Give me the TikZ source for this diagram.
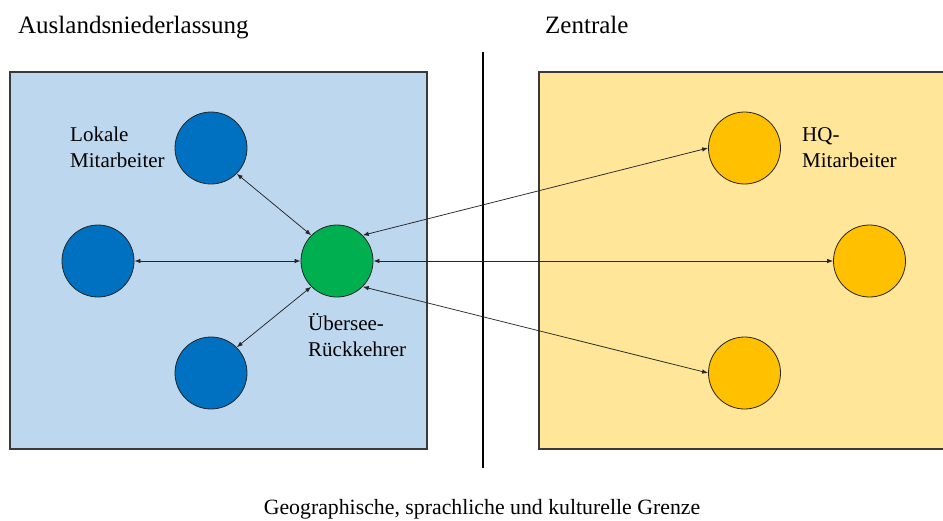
\documentclass[tikz,border=0pt]{standalone}
\usepackage{fontspec}
\setmainfont{Liberation Serif}
\usetikzlibrary{arrows.meta}
\definecolor{lblue}{HTML}{BDD7EE}
\definecolor{dblue}{HTML}{0070C0}
\definecolor{lgold}{HTML}{FFE699}
\definecolor{gold}{HTML}{FFC000}
\definecolor{grn}{HTML}{00B050}
\definecolor{frame}{HTML}{3A3A3A}
\tikzset{
  region/.style={draw=frame, line width=1.6pt},
  person/.style={circle, draw=black!85, line width=0.8pt, minimum size=72pt, inner sep=0pt},
  link/.style={line width=0.75pt, draw=black!85, {Latex[length=6pt,width=4.5pt]}-{Latex[length=6pt,width=4.5pt]}},
  title/.style={font=\fontsize{25}{29}\selectfont, anchor=base west, inner sep=0pt},
  lbl/.style={font=\fontsize{21}{26}\selectfont, align=left, anchor=west, inner sep=0pt}
}
\begin{document}
\begin{tikzpicture}[x=1pt, y=-1pt]
\useasboundingbox (0,0) rectangle (943,520);
% regions
\fill[lblue] (10,72) rectangle (427,449);
\draw[region] (10,72) rectangle (427,449);
\fill[lgold] (539,72) rectangle (950,449);
\draw[region] (950,72) -- (539,72) -- (539,449) -- (950,449);
% border line
\draw[line width=1.4pt] (483,52) coordinate (btop) -- (483,468) coordinate (bbot);
% titles
\node[title] (t1) at (18,33) {Auslandsniederlassung};
\node[title] (t2) at (545,33) {Zentrale};
\node[font=\fontsize{21.8}{26}\selectfont, anchor=base, inner sep=0pt] (t3) at (482,514) {Geographische, sprachliche und kulturelle Grenze};
% persons
\node[person, fill=dblue] (b1) at (211,148) {};
\node[person, fill=dblue] (b2) at (98,261) {};
\node[person, fill=dblue] (b3) at (211,373) {};
\node[person, fill=grn] (g) at (337,261) {};
\node[person, fill=gold] (o1) at (744.5,148) {};
\node[person, fill=gold] (o2) at (869.5,261) {};
\node[person, fill=gold] (o3) at (744.5,373) {};
% labels
\node[lbl] (l1) at (70,147) {Lokale\\Mitarbeiter};
\node[lbl] (l2) at (802,148) {HQ-\\Mitarbeiter};
\node[lbl] (l3) at (308,335) {Übersee-\\Rückkehrer};
% links
\draw[link] (b1.south east) -- (g.north west);
\draw[link] (b2.east) -- (g.west);
\draw[link] (b3.north east) -- (g.south west);
\draw[link] (g.north east) -- (o1.west);
\draw[link] (g.east) -- (o2.west);
\draw[link] (g.south east) -- (o3.west);
\end{tikzpicture}
\end{document}
